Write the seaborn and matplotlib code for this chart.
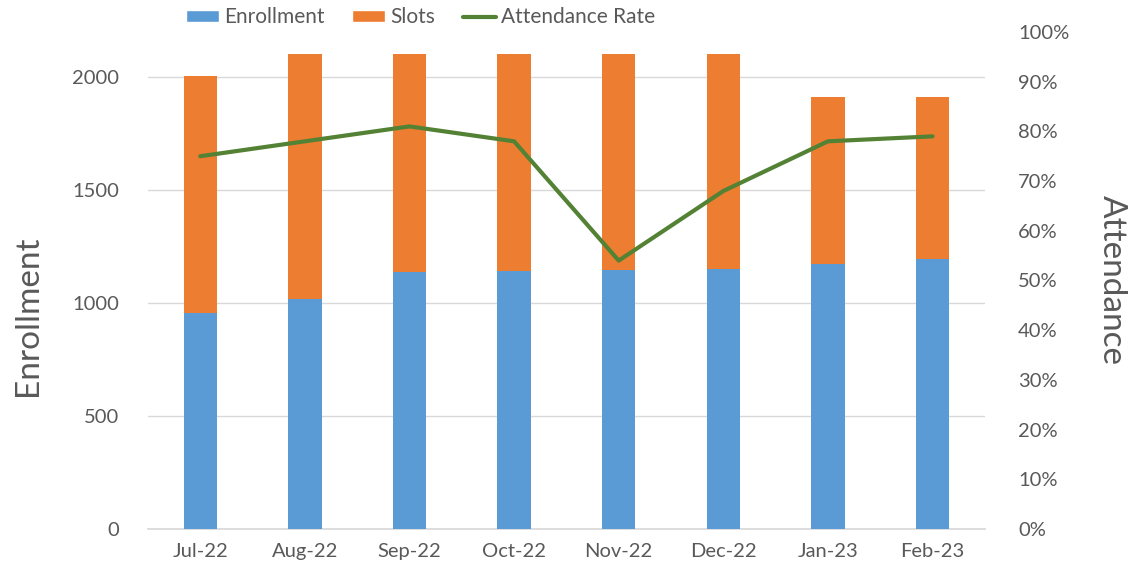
import matplotlib
matplotlib.use("Agg")
import matplotlib.pyplot as plt
import seaborn as sns
import pandas as pd
from matplotlib.patches import Patch
from matplotlib.lines import Line2D
from matplotlib.ticker import PercentFormatter

months = ["Jul-22", "Aug-22", "Sep-22", "Oct-22", "Nov-22", "Dec-22", "Jan-23", "Feb-23"]
enrollment = [954, 1018, 1139, 1143, 1147, 1152, 1171, 1193]
slots = [1051, 1085, 964, 960, 956, 951, 742, 720]
attendance = [0.75, 0.78, 0.81, 0.78, 0.54, 0.68, 0.78, 0.79]

sns.set_theme(style="white")
plt.rcParams["font.family"] = ["Lato", "DejaVu Sans"]

BLUE = "#5B9BD5"
ORANGE = "#ED7D31"
GREEN = "#548235"
TXT = "#595959"
GRID = "#D9D9D9"

df = pd.DataFrame({"month": months, "enrollment": enrollment, "slots": slots,
                   "attendance": attendance})
df["total"] = df["enrollment"] + df["slots"]

fig = plt.figure(figsize=(11.32, 5.71), dpi=100)
ax = fig.add_axes([0.1307, 0.0736, 0.7393, 0.8704])

sns.barplot(data=df, x="month", y="total", color=ORANGE, width=0.32,
            saturation=1, ax=ax, zorder=2, edgecolor="none")
sns.barplot(data=df, x="month", y="enrollment", color=BLUE, width=0.32,
            saturation=1, ax=ax, zorder=3, edgecolor="none")

ax.set_ylim(0, 2200)
ax.set_yticks([0, 500, 1000, 1500, 2000])
ax.set_xlim(-0.5, len(months) - 0.5)
ax.yaxis.grid(True, color=GRID, linewidth=1)
ax.set_axisbelow(True)
for s in ["left", "right", "top"]:
    ax.spines[s].set_visible(False)
ax.spines["bottom"].set_color(GRID)
ax.tick_params(axis="both", length=0, labelsize=14.5, labelcolor=TXT)
ax.tick_params(axis="x", pad=10)
ax.tick_params(axis="y", pad=21)
ax.set_xlabel("")
ax.set_ylabel("Enrollment", fontsize=24, color=TXT, va="center")
ax.yaxis.set_label_coords(-0.1435, 0.43)

ax2 = ax.twinx()
sns.lineplot(x=list(range(len(months))), y=attendance, color=GREEN, linewidth=3,
             ax=ax2, sort=False, zorder=4)
ax2.set_ylim(0, 1.0)
ax2.set_yticks([i / 10 for i in range(11)])
ax2.yaxis.set_major_formatter(PercentFormatter(1.0, decimals=0))
for s in ["left", "right", "top", "bottom"]:
    ax2.spines[s].set_visible(False)
ax2.tick_params(axis="y", length=0, labelsize=14.5, labelcolor=TXT, pad=24)
ax2.set_ylabel("Attendance", fontsize=24, color=TXT, rotation=270, va="center")
ax2.yaxis.set_label_coords(1.152, 0.5)

handles = [Patch(facecolor=BLUE, label="Enrollment"),
           Patch(facecolor=ORANGE, label="Slots"),
           Line2D([0], [0], color=GREEN, linewidth=3, label="Attendance Rate")]
leg = fig.legend(handles=handles, loc="upper center", bbox_to_anchor=(0.3715, 1.02),
                 ncol=3, frameon=False, fontsize=15, handlelength=1.6,
                 handleheight=0.55, columnspacing=1.3, handletextpad=0.25)
for t in leg.get_texts():
    t.set_color(TXT)

fig.savefig("out.png", dpi=100)
